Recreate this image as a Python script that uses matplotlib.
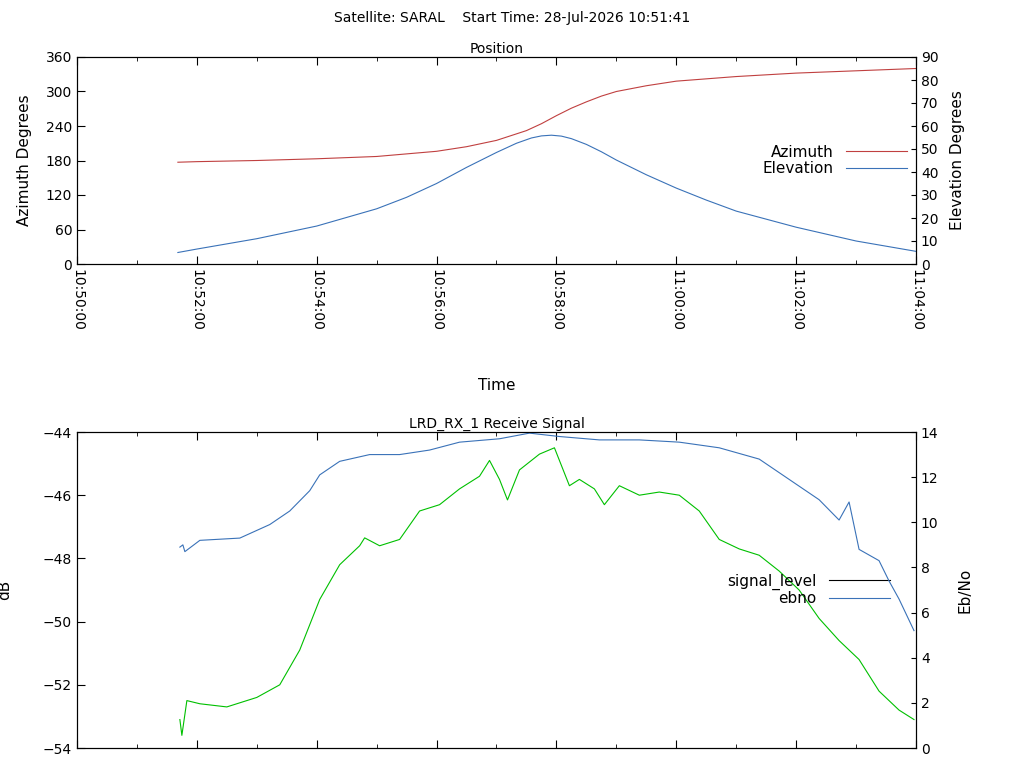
import matplotlib.pyplot as plt
import matplotlib.dates as mdates
from datetime import datetime, timedelta

base = datetime(2026, 7, 28, 10, 50, 0)

def t(s):
    return [base + timedelta(seconds=v) for v in s]

# position (seconds after 10:50:00)
pos_sec = [101, 120, 180, 240, 300, 360, 390, 420, 450, 465, 480, 495, 510, 525, 540, 570,
           600, 630, 660, 720, 780, 840]
azimuth = [177, 178, 180, 183, 187, 196, 204, 215, 232, 244, 258, 271, 282, 292, 300, 310,
           318, 322, 326, 332, 336, 340]
el_sec = [101, 120, 180, 240, 300, 330, 360, 390, 420, 440, 455, 465, 475, 485, 495, 510,
          525, 540, 570, 600, 630, 660, 720, 780, 840]
elevation = [5, 6.5, 11, 16.5, 24, 29, 35, 42, 48.5, 52.5, 54.8, 55.7, 56, 55.6, 54.5, 52,
             48.8, 45.2, 38.8, 33, 27.8, 23, 16, 10, 5.5]

# receive signal
sig_sec = [103, 105, 110, 123, 150, 180, 203, 223, 243, 263, 283, 288, 303, 323, 343, 363,
           383, 403, 413, 423, 431, 443, 463, 478, 493, 503, 518, 528, 543, 563, 583, 603,
           623, 643, 663, 683, 703, 723, 743, 763, 783, 803, 823, 838]
signal_level = [-53.1, -53.6, -52.5, -52.6, -52.7, -52.4, -52.0, -50.9, -49.3, -48.2, -47.6,
                -47.35, -47.6, -47.4, -46.5, -46.3, -45.8, -45.4, -44.9, -45.5, -46.15, -45.2,
                -44.7, -44.5, -45.7, -45.5, -45.8, -46.3, -45.7, -46.0, -45.9, -46.0, -46.5,
                -47.4, -47.7, -47.9, -48.4, -49.0, -49.9, -50.6, -51.2, -52.2, -52.8, -53.1]
eb_sec = [103, 106, 108, 123, 163, 193, 213, 233, 243, 263, 293, 323, 353, 383, 423, 453, 483,
          523, 563, 603, 643, 683, 713, 743, 763, 773, 783, 803, 813, 823, 838]
ebno = [8.9, 9.0, 8.7, 9.2, 9.3, 9.9, 10.5, 11.4, 12.1, 12.7, 13.0, 13.0, 13.2, 13.55, 13.7,
        13.95, 13.8, 13.65, 13.65, 13.55, 13.3, 12.8, 11.9, 11.0, 10.1, 10.9, 8.8, 8.3, 7.4,
        6.6, 5.2]

plt.rcParams['font.family'] = 'DejaVu Sans'
plt.rcParams['font.size'] = 10
fig = plt.figure(figsize=(10.24, 7.68), dpi=100)
fig.text(0.5, 0.977, 'Satellite: SARAL    Start Time: 28-Jul-2026 10:51:41', ha='center', va='center')

red = '#c04040'
blue = '#3a72b8'
green = '#00c000'

x0, x1 = 77 / 1024, 916 / 1024
ax1 = fig.add_axes([x0, 1 - 264 / 768, x1 - x0, 207 / 768])
ax2 = fig.add_axes([x0, 1 - 748 / 768, x1 - x0, 316 / 768])

for ax in (ax1, ax2):
    ax.set_xlim(base, base + timedelta(minutes=14))
    ax.xaxis.set_major_locator(mdates.MinuteLocator(byminute=range(0, 60, 2)))
    ax.xaxis.set_minor_locator(mdates.MinuteLocator())
    ax.xaxis.set_major_formatter(mdates.DateFormatter('%H:%M:%S'))
    ax.tick_params(which='both', direction='in', top=True)
    ax.tick_params(which='major', length=6)
    ax.tick_params(which='minor', length=3)

ax1.plot(t(pos_sec), azimuth, color=red, lw=0.8, label='Azimuth')
ax1.set_ylim(0, 360)
ax1.set_yticks(range(0, 361, 60))
ax1.set_ylabel('Azimuth Degrees', fontsize=11, labelpad=10)
ax1.set_title('Position', fontsize=10, pad=3)
ax1.set_xlabel('Time', labelpad=34, fontsize=11)
plt.setp(ax1.get_xticklabels(), rotation=-90)
ax1r = ax1.twinx()
ax1r.plot(t(el_sec), elevation, color=blue, lw=0.8, label='Elevation')
ax1r.set_ylim(0, 90)
ax1r.set_yticks(range(0, 91, 10))
ax1r.set_ylabel('Elevation Degrees', fontsize=11, labelpad=8)
ax1r.tick_params(direction='in')
h = ax1.get_lines() + ax1r.get_lines()
ax1.legend(h, [l.get_label() for l in h], loc='center right', bbox_to_anchor=(1.0, 0.5),
           frameon=False, markerfirst=False, handlelength=4, borderaxespad=0.2,
           labelspacing=0.1, fontsize=11)

ax2.plot(t(sig_sec), signal_level, color=green, lw=0.8)
ax2.set_ylim(-54, -44)
ax2.set_yticks(range(-54, -43, 2))
ax2.set_ylabel('dB', labelpad=22, fontsize=11)
ax2.set_title('LRD_RX_1 Receive Signal', fontsize=10, pad=3)
ax2.set_xticklabels([])
ax2r = ax2.twinx()
ax2r.plot(t(eb_sec), ebno, color=blue, lw=0.8)
ax2r.set_ylim(0, 14)
ax2r.set_yticks(range(0, 15, 2))
ax2r.set_ylabel('Eb/No', labelpad=14, fontsize=11)
ax2r.tick_params(direction='in')
l1, = ax2.plot([], [], color='black', lw=0.8)
l2, = ax2.plot([], [], color=blue, lw=0.8)
ax2.legend([l1, l2], ['signal_level', 'ebno'], loc='center right', bbox_to_anchor=(0.98, 0.5),
           frameon=False, markerfirst=False, handlelength=4, borderaxespad=0.2,
           labelspacing=0.1, fontsize=11)

fig.savefig('out.png')
